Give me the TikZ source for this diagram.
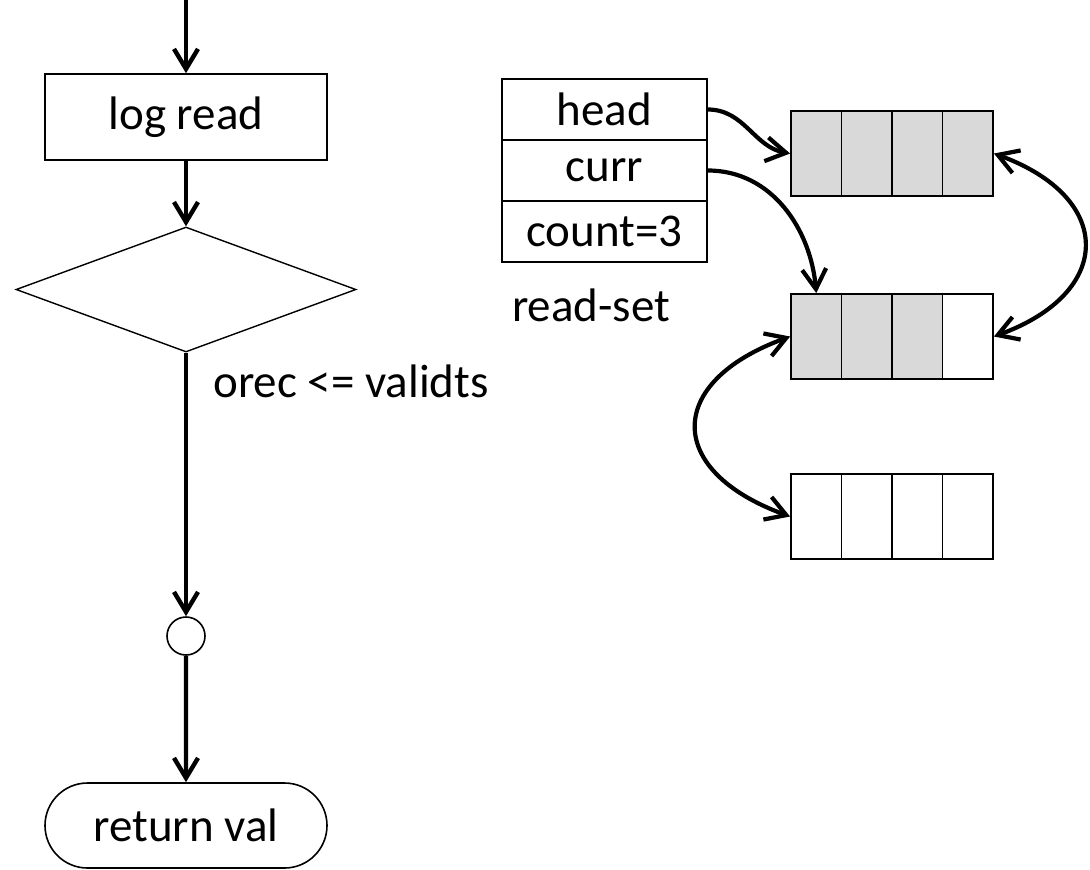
\documentclass[tikz,border=0pt]{standalone}
\usepackage{fontspec}
\setmainfont{Carlito}
\usetikzlibrary{arrows.meta,shapes.geometric,shapes.misc}
\definecolor{cellgray}{HTML}{D9D9D9}

\begin{document}
\begin{tikzpicture}[x=0.5pt,y=0.5pt,
  font=\fontsize{23.5}{28}\selectfont,
  >={Straight Barb[length=10pt,width=12pt]},
  flow/.style={line width=2.2pt,->},
  link/.style={line width=2.1pt},
  box/.style={draw,line width=0.8pt,minimum width=141pt,minimum height=43pt,inner sep=0pt},
  field/.style={draw,line width=0.9pt,minimum width=102.5pt,minimum height=30.5pt,inner sep=0pt},
  cell/.style={draw,line width=0.9pt,minimum width=25.25pt,minimum height=42.5pt,inner sep=0pt}]
  \useasboundingbox (0,0) rectangle (1090,-869);
  % flowchart
  \coordinate (entry) at (186,0);
  \node[box] (logread) at (186,-117) {log read};
  \node[diamond,draw,line width=0.7pt,minimum width=170pt,minimum height=62.5pt,inner sep=0pt] (check) at (186,-289.5) {};
  \node[anchor=base west,inner sep=0pt] (guard) at (213,-397) {orec <= validts};
  \node[circle,draw,line width=0.8pt,minimum size=19pt,inner sep=0pt] (join) at (186,-636) {};
  \node[box,rounded rectangle,minimum height=42.5pt] (ret) at (186,-825.5) {return val};
  \draw[flow] (entry) -- (logread);
  \draw[flow] (logread) -- (check);
  \draw[flow] (check.south) -- (join);
  \draw[flow] (join) -- (ret);
  % read-set
  \node[field] (head) at (604.5,-109.5) {head};
  \node[field] (curr) at (604.5,-170.5) {curr};
  \node[field] (count) at (604.5,-231.5) {count=3};
  \node[anchor=base] (rslabel) at (591,-321) {read-set};
  % read-set blocks
  \foreach \r/\y/\n in {1/153.5/4,2/336.5/3,3/516.5/0}
    \foreach \c in {1,...,4}{
      \ifnum\c>\n\relax \def\cellfill{white}\else \def\cellfill{cellgray}\fi
      \node[cell,fill=\cellfill] (r\r-\c) at ({816.25+50.5*(\c-1)},-\y) {};
    }
  \draw[link,->] (head.east) to[out=0,in=170] (r1-1.west);
  \draw[link,->] (curr.east) to[out=0,in=95] (r2-1.north);
  \draw[link,<->] (r1-4.east) to[out=-20,in=20,looseness=1.8] (r2-4.east);
  \draw[link,<->] (r2-1.west) to[out=200,in=160,looseness=1.9] (r3-1.west);
\end{tikzpicture}
\end{document}
